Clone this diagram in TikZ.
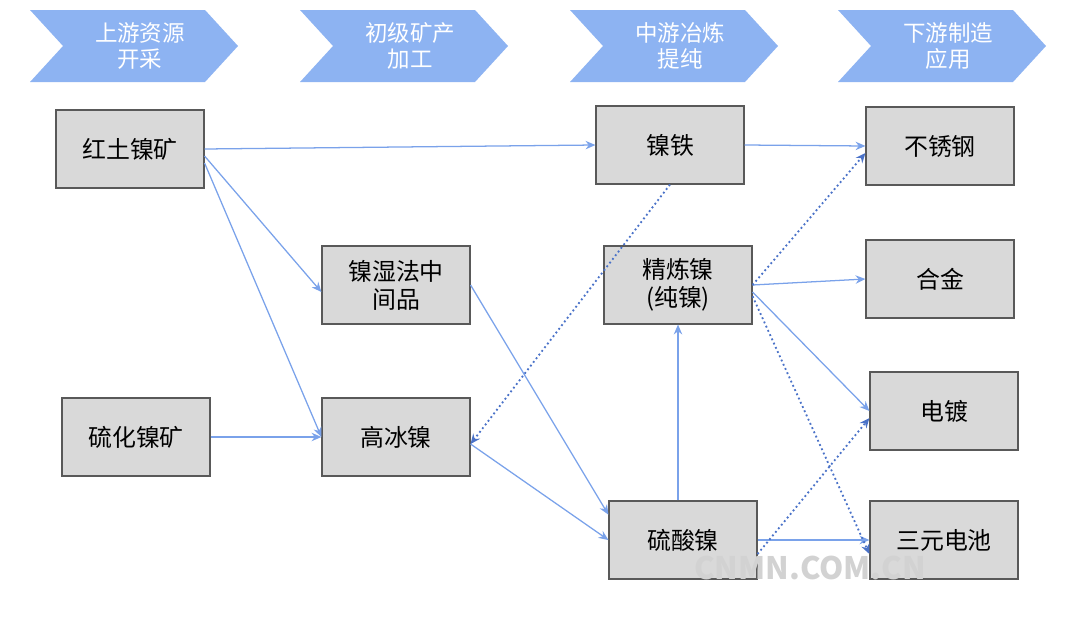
\documentclass[tikz,border=0pt]{standalone}
\usepackage{fontspec}
\setmainfont{Noto Sans CJK SC}
\usetikzlibrary{arrows.meta}
\definecolor{hdr}{HTML}{8DB3F2}
\definecolor{lnk}{HTML}{7AA2EA}
\definecolor{dlnk}{HTML}{4A72C8}
\begin{document}
\begin{tikzpicture}[x=0.025cm, y=-0.025cm,
  box/.style={draw=gray!70!black, fill=gray!30, line width=0.8pt, minimum width=3.7cm, minimum height=1.95cm, font=\fontsize{17}{20}\selectfont, align=center},
  hdr/.style={fill=hdr, font=\fontsize{16}{18}\selectfont, text=white, align=center},
  link/.style={-{Stealth[length=7pt,width=6pt]}, draw=lnk, line width=0.9pt},
  dlink/.style={-{Stealth[length=7pt,width=6pt]}, draw=dlnk, line width=1.3pt, dotted}]

  \useasboundingbox (0,0) rectangle (1080,631);

  % Headers
  \foreach \x/\t in {30/{上游资源\\开采}, 300/{初级矿产\\加工}, 570/{中游冶炼\\提纯}, 838/{下游制造\\应用}} {
    \fill[hdr] (\x,10) -- (\x+175,10) -- (\x+208,46) -- (\x+175,82) -- (\x,82) -- (\x+33,46) -- cycle;
    \node[hdr, fill=none] at (\x+110,46) {\t};
  }

  % Boxes
  \node[box] (hts) at (130,149) {红土镍矿};
  \node[box] (lhs) at (136,437) {硫化镍矿};
  \node[box] (sfz) at (396,285) {镍湿法中\\间品};
  \node[box] (gbn) at (396,437) {高冰镍};
  \node[box] (nt)  at (670,145) {镍铁};
  \node[box] (jln) at (678,285) {精炼镍\\(纯镍)};
  \node[box] (sn)  at (683,540) {硫酸镍};
  \node[box] (bxg) at (940,146) {不锈钢};
  \node[box] (hj)  at (940,279) {合金};
  \node[box] (dd)  at (944,411) {电镀};
  \node[box] (sy)  at (944,540) {三元电池};

  % Links
  \draw[link] (hts.east) -- (nt.west);
  \draw[link] ([yshift=-5]hts.east) -- ([yshift=-5]sfz.west);
  \draw[link] ([yshift=-10]hts.east) -- (gbn.west);
  \draw[link] (lhs.east) -- (gbn.west);
  \draw[link] (sfz.east) -- ([yshift=18]sn.west);
  \draw[link] ([yshift=-5]gbn.east) -- (sn.west);
  \draw[link] (sn.north -| jln.south) -- (jln.south);
  \draw[link] (nt.east) -- (bxg.west);
  \draw[link] (jln.east) -- (hj.west);
  \draw[link] ([yshift=-5]jln.east) -- (dd.west);
  \draw[link] (sn.east) -- (sy.west);

  % Dotted links
  \draw[dlink] (nt.south) -- ([yshift=-5]gbn.east);
  \draw[dlink] (jln.east) -- ([yshift=-5]bxg.west);
  \draw[dlink] ([yshift=-8]jln.east) -- ([yshift=-10]sy.west);
  \draw[dlink] ([yshift=-10]sn.east) -- ([yshift=-5]dd.west);

  % Watermark
  \node[text=gray!35, font=\fontsize{22}{24}\selectfont\bfseries] (wm) at (810,568) {CNMN.COM.CN};
\end{tikzpicture}
\end{document}
